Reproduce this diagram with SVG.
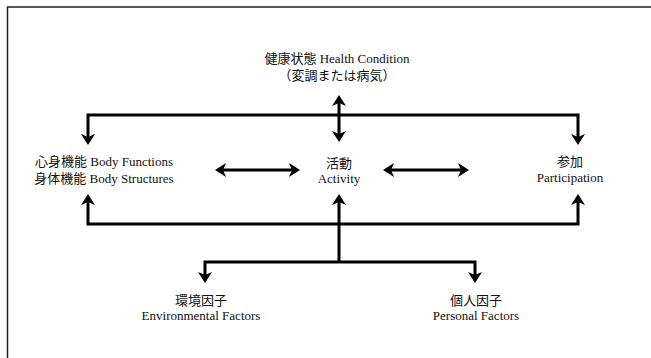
<svg xmlns="http://www.w3.org/2000/svg" width="651" height="358" viewBox="0 0 651 358">
<defs>
<style>
text{font-family:"Liberation Serif","Noto Sans CJK JP",serif;font-size:13px;fill:#111;text-anchor:middle}
.c{fill:none;stroke:#000;stroke-width:3;stroke-linejoin:miter}
.a{marker-end:url(#ah)}
.b{marker-start:url(#ah);marker-end:url(#ah)}
</style>
<marker id="ah" markerUnits="userSpaceOnUse" markerWidth="14" markerHeight="16" refX="3" refY="7" orient="auto-start-reverse">
<path d="M0,0 L11,7 L0,14 L3,7 Z" fill="#000"/>
</marker>
</defs>
<rect width="651" height="358" fill="#fff"/>
<rect x="7.5" y="7" width="700" height="400" fill="none" stroke="#222" stroke-width="1.5"/>
<g id="connectors">
<path class="c b" d="M88,137 V115 H578 V137"/>
<path class="c b" d="M339,103 V134"/>
<path class="c b" d="M223,170 H292"/>
<path class="c b" d="M391,170 H461"/>
<path class="c b" d="M88,202 V224 H578 V202"/>
<path class="c a" d="M339,262 V202"/>
<path class="c b" d="M205,275 V262 H475 V275"/>
</g>
<g id="health"><text x="337" y="63">健康状態 Health Condition</text><text x="337" y="80">（変調または病気）</text></g>
<g id="body"><text x="104" y="166">心身機能 Body Functions</text><text x="104" y="183">身体機能 Body Structures</text></g>
<g id="activity"><text x="339" y="168">活動</text><text x="339" y="183">Activity</text></g>
<g id="participation"><text x="570" y="166">参加</text><text x="570" y="182">Participation</text></g>
<g id="environmental"><text x="201" y="305">環境因子</text><text x="201" y="320">Environmental Factors</text></g>
<g id="personal"><text x="476" y="305">個人因子</text><text x="476" y="320">Personal Factors</text></g>
</svg>
